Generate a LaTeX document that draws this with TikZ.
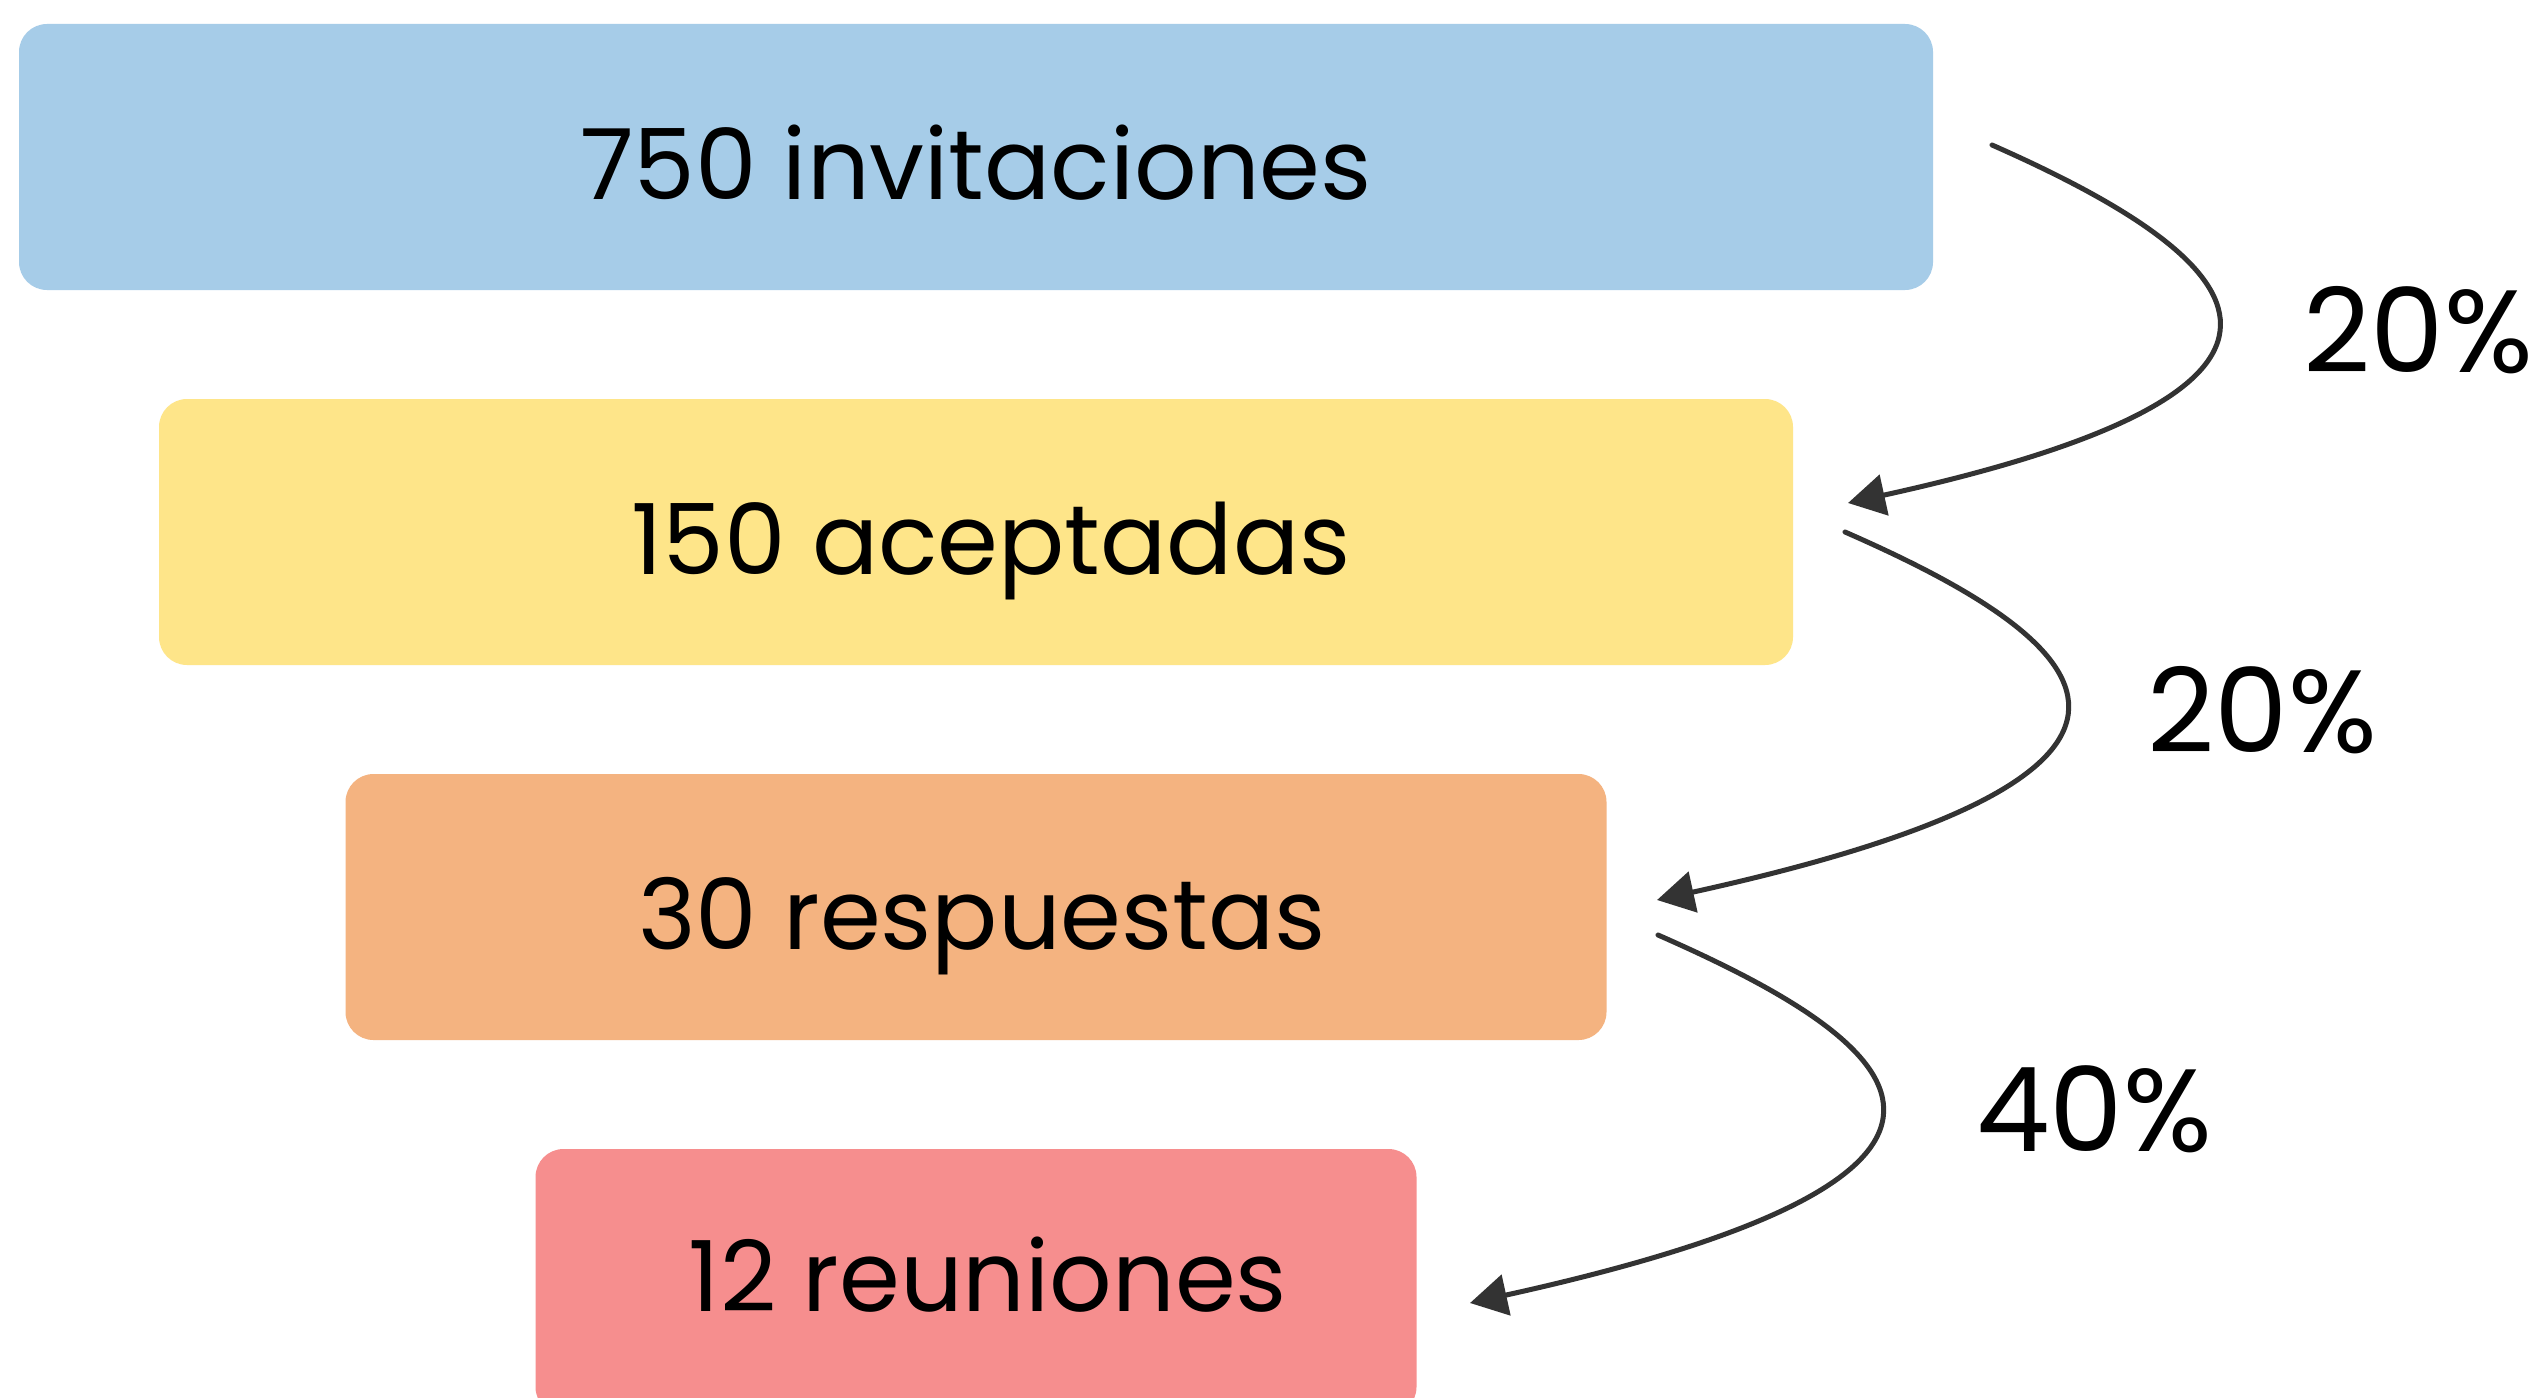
\documentclass[tikz,border=0pt]{standalone}
\usepackage{fontspec}
\setmainfont{Poppins}
\usetikzlibrary{arrows.meta}
\definecolor{cblue}{RGB}{166,204,232}
\definecolor{cyellow}{RGB}{254,229,137}
\definecolor{corange}{RGB}{244,179,128}
\definecolor{cpink}{RGB}{246,142,142}
\definecolor{cline}{RGB}{51,51,51}
\tikzset{
  stage/.style={rectangle, rounded corners=28pt, draw=none, inner sep=0pt,
    minimum height=266pt, text height=84pt, text depth=0pt,
    font=\fontsize{98}{110}\selectfont, text=black},
  pct/.style={inner sep=0pt, font=\fontsize{117}{130}\selectfont, text=black},
  flow/.style={draw=cline, line width=5pt, line cap=round,
    -{Triangle[length=37pt,width=41pt]}}
}
\begin{document}
\begin{tikzpicture}[x=1pt,y=-1pt]
\clip (0,0) rectangle (2545,1397);
\fill[white] (0,0) rectangle (2545,1397);
\node[stage, fill=cblue, minimum width=1914pt] (b1) at (976,157) {750 invitaciones};
\node[stage, fill=cyellow, minimum width=1634pt] (b2) at (976,532) {\hspace*{30pt}150 aceptadas};
\node[stage, fill=corange, minimum width=1261pt] (b3) at (976,907) {\hspace*{12pt}30 respuestas};
\node[stage, fill=cpink, minimum width=881pt, text height=84pt, text depth=26pt] (b4) at (976,1282) {\hspace*{24pt}12 reuniones};
\node[pct] (p1) at (2418,330) {20\%};
\node[pct] (p2) at (2262,710) {20\%};
\node[pct] (p3) at (2094,1109) {40\%};
\coordinate (s1) at (1992,145);
\coordinate (e1) at (1848,503);
\coordinate (s2) at (1845,532);
\coordinate (e2) at (1657,900);
\coordinate (s3) at (1658,935);
\coordinate (e3) at (1470,1303);
\draw[flow] (s1) .. controls (2239,254) and (2390,384) .. (e1);
\draw[flow] (s2) .. controls (2071,631) and (2266,766) .. (e2);
\draw[flow] (s3) .. controls (1881,1033) and (2087,1167) .. (e3);
\end{tikzpicture}
\end{document}
